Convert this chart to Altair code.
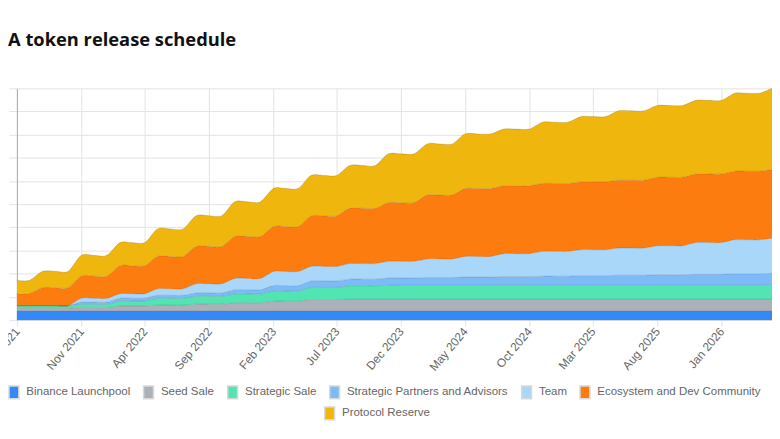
import altair as alt
import pandas as pd

# ---- data (cumulative % of supply unlocked per allocation, monthly) ----
series_names = [
    "Binance Launchpool",
    "Seed Sale",
    "Strategic Sale",
    "Strategic Partners and Advisors",
    "Team",
    "Ecosystem and Dev Community",
    "Protocol Reserve",
]
series_colors = ["#3389f7", "#aab1b9", "#52e5b2", "#7dbbf6", "#a9d7fa", "#fc7c0f", "#efb60d"]

months = list(pd.date_range("2021-06-01", "2026-05-01", freq="MS").strftime("%Y-%m-%dT00:00:00"))

binance_launchpool = [
    4.0, 4.0, 4.0, 4.0, 4.0, 4.0, 4.0,
    4.0, 4.0, 4.0, 4.0, 4.0, 4.0, 4.0, 4.0, 4.0, 4.0, 4.0, 4.0,
    4.0, 4.0, 4.0, 4.0, 4.0, 4.0, 4.0, 4.0, 4.0, 4.0, 4.0, 4.0,
    4.0, 4.0, 4.0, 4.0, 4.0, 4.0, 4.0, 4.0, 4.0, 4.0, 4.0, 4.0,
    4.0, 4.0, 4.0, 4.0, 4.0, 4.0, 4.0, 4.0, 4.0, 4.0, 4.0, 4.0,
    4.0, 4.0, 4.0, 4.0, 4.0,
]
seed_sale = [
    1.0, 1.0, 1.0, 1.0, 1.0, 1.3, 1.3,
    1.3, 2.0, 2.0, 2.0, 2.4, 2.4, 2.4, 2.8, 2.8, 2.8, 3.4, 3.4,
    3.4, 4.1, 4.1, 4.1, 4.8, 4.8, 4.8, 5.0, 5.0, 5.0, 5.0, 5.0,
    5.0, 5.0, 5.0, 5.0, 5.0, 5.0, 5.0, 5.0, 5.0, 5.0, 5.0, 5.0,
    5.0, 5.0, 5.0, 5.0, 5.0, 5.0, 5.0, 5.0, 5.0, 5.0, 5.0, 5.0,
    5.0, 5.0, 5.0, 5.0, 5.0,
]
strategic_sale = [
    1.1, 1.1, 1.1, 1.1, 1.1, 1.4, 1.4,
    1.4, 2.2, 2.2, 2.2, 2.9, 2.9, 2.9, 3.4, 3.4, 3.4, 3.8, 3.8,
    3.8, 4.4, 4.4, 4.4, 5.2, 5.2, 5.2, 5.7, 5.7, 5.7, 6.0, 6.0,
    6.0, 6.0, 6.0, 6.0, 6.0, 6.0, 6.0, 6.0, 6.0, 6.0, 6.0, 6.0,
    6.0, 6.0, 6.0, 6.0, 6.0, 6.0, 6.0, 6.0, 6.0, 6.0, 6.0, 6.0,
    6.0, 6.0, 6.0, 6.0, 6.0,
]
partners_advisors = [
    0.0, 0.0, 0.0, 0.0, 0.0, 1.0, 1.0,
    1.0, 1.2, 1.2, 1.2, 1.3, 1.3, 1.3, 1.4, 1.4, 1.4, 1.8, 1.8,
    1.8, 2.3, 2.3, 2.3, 2.8, 2.8, 2.8, 2.9, 2.9, 2.9, 3.1, 3.1,
    3.1, 3.3, 3.3, 3.3, 3.5, 3.5, 3.5, 3.7, 3.7, 3.7, 3.9, 3.9,
    3.9, 4.1, 4.1, 4.1, 4.3, 4.3, 4.3, 4.5, 4.5, 4.5, 4.7, 4.7,
    4.7, 4.9, 4.9, 4.9, 5.1,
]
team = [
    0.0, 0.0, 0.0, 0.0, 0.0, 1.6, 1.6,
    1.6, 1.9, 1.9, 1.9, 2.8, 2.8, 2.8, 4.0, 4.0, 4.0, 4.9, 4.9,
    4.9, 6.1, 6.1, 6.1, 6.3, 6.3, 6.3, 6.7, 6.7, 6.7, 7.2, 7.2,
    7.2, 8.0, 8.0, 8.0, 8.9, 8.9, 8.9, 9.9, 9.9, 9.9, 10.7, 10.7,
    10.7, 11.2, 11.2, 11.2, 11.7, 11.7, 11.7, 12.5, 12.5, 12.5, 13.7, 13.7,
    13.7, 14.7, 14.7, 14.7, 15.2,
]
ecosystem = [
    5.3, 5.3, 7.8, 7.8, 7.8, 9.6, 9.6,
    9.6, 12.1, 12.1, 12.1, 14.0, 14.0, 14.0, 16.1, 16.1, 16.1, 18.1, 18.1,
    18.1, 19.4, 19.4, 19.4, 21.8, 21.8, 21.8, 23.9, 23.9, 23.9, 25.3, 25.3,
    25.3, 27.6, 27.6, 27.6, 29.3, 29.3, 29.3, 29.3, 29.3, 29.3, 29.3, 29.3,
    29.3, 29.3, 29.3, 29.3, 29.3, 29.3, 29.3, 29.6, 29.6, 29.6, 29.6, 29.6,
    29.6, 29.6, 29.6, 29.6, 29.6,
]
protocol_reserve = [
    5.7, 5.7, 7.1, 7.1, 7.1, 9.0, 9.0,
    9.0, 10.0, 10.0, 10.0, 11.9, 11.9, 11.9, 13.3, 13.3, 13.3, 15.0, 15.0,
    15.0, 16.5, 16.5, 16.5, 17.5, 17.5, 17.5, 18.5, 18.5, 18.5, 21.1, 21.1,
    21.1, 22.1, 22.1, 22.1, 23.6, 23.6, 23.6, 24.5, 24.5, 24.5, 26.5, 26.5,
    26.5, 28.2, 28.2, 28.2, 30.0, 30.0, 30.0, 31.0, 31.0, 31.0, 31.8, 31.8,
    31.8, 33.7, 33.7, 33.7, 35.1,
]

tick_months = [(2021, 6), (2021, 11), (2022, 4), (2022, 9), (2023, 2), (2023, 7),
               (2023, 12), (2024, 5), (2024, 10), (2025, 3), (2025, 8), (2026, 1)]

all_series = [binance_launchpool, seed_sale, strategic_sale, partners_advisors,
              team, ecosystem, protocol_reserve]

# ---- build long table with stacked bounds ----
rows = []
for i, m in enumerate(months):
    base = 0.0
    for name, vals in zip(series_names, all_series):
        rows.append({"month": m, "series": name, "lo": base, "hi": base + vals[i]})
        base += vals[i]
df = pd.DataFrame(rows)
main_df = df[df["series"] != "Protocol Reserve"]
prot_df = df[df["series"] == "Protocol Reserve"]

FONT = "Liberation Sans"
GRID = "#e3e3e3"

x_enc = alt.X(
    "month:T",
    title=None,
    scale=alt.Scale(domain=[alt.DateTime(year=2021, month=6, date=1),
                            alt.DateTime(year=2026, month=5, date=1)], nice=False),
    axis=alt.Axis(
        values=[alt.DateTime(year=y, month=mo, date=1) for y, mo in tick_months],
        format="%b %Y", labelAngle=-50, labelAlign="right", labelBaseline="middle",
        labelFont=FONT, labelFontSize=12, labelColor="#666666", labelPadding=3,
        labelOverlap=False, tickSize=6, tickColor=GRID, gridColor=GRID,
        domainColor="#d0d0d0",
    ),
)


def y_enc(field):
    return alt.Y(
        field, title=None, stack=None,
        scale=alt.Scale(domain=[0, 100], nice=False),
        axis=alt.Axis(
            values=list(range(0, 101, 10)), labelExpr="datum.value + '%'",
            labelFont=FONT, labelFontSize=12, labelColor="#666666", labelPadding=2,
            tickSize=8, tickColor=GRID, gridColor=GRID, domainColor="#a8a8a8",
        ),
    )


legend_common = dict(
    title=None, orient="none", direction="horizontal",
    symbolType="M-1,-1.3H1V1.3H-1Z", symbolSize=100,
    symbolStrokeColor="#d9d9d9", symbolStrokeWidth=1.5, symbolOpacity=1,
    labelFont=FONT, labelFontSize=11.6, labelColor="#666666",
    labelOffset=6.5, columnPadding=10, padding=0, labelLimit=300,
)

area_main = alt.Chart(main_df).mark_area(interpolate="cardinal", tension=0.1).encode(
    x=x_enc, y=y_enc("lo:Q"), y2="hi:Q",
    color=alt.Color("series:N", sort=series_names[:6],
                    scale=alt.Scale(domain=series_names[:6], range=series_colors[:6]),
                    legend=alt.Legend(legendX=-9, legendY=301, **legend_common)),
)

area_prot = alt.Chart(prot_df).mark_area(interpolate="cardinal", tension=0.1).encode(
    x=x_enc, y=y_enc("lo:Q"), y2="hi:Q",
    color=alt.Color("series:N",
                    scale=alt.Scale(domain=series_names[6:], range=series_colors[6:]),
                    legend=alt.Legend(legendX=310, legendY=322.5, **legend_common)),
)

edges = alt.Chart(df).mark_line(interpolate="cardinal", tension=0.1,
                                color="rgba(0,0,0,0.13)", strokeWidth=1).encode(
    x=x_enc, y=y_enc("hi:Q"), detail="series:N",
)

chart = alt.layer(area_main, area_prot, edges).resolve_scale(
    color="independent"
).properties(
    width=763, height=234,
    padding={"left": 9, "top": 79, "right": 0, "bottom": 100},
    autosize=alt.AutoSizeParams(type="none"),
    background="white",
    title=alt.Title("A token release schedule", anchor="start", frame="group",
                    font="Open Sans", fontSize=18.5, fontWeight="bold",
                    color="#111111", dx=-9, offset=18, baseline="alphabetic"),
).configure_view(strokeWidth=0)

chart.save("out.html", embed_options={"renderer": "svg", "actions": False})
